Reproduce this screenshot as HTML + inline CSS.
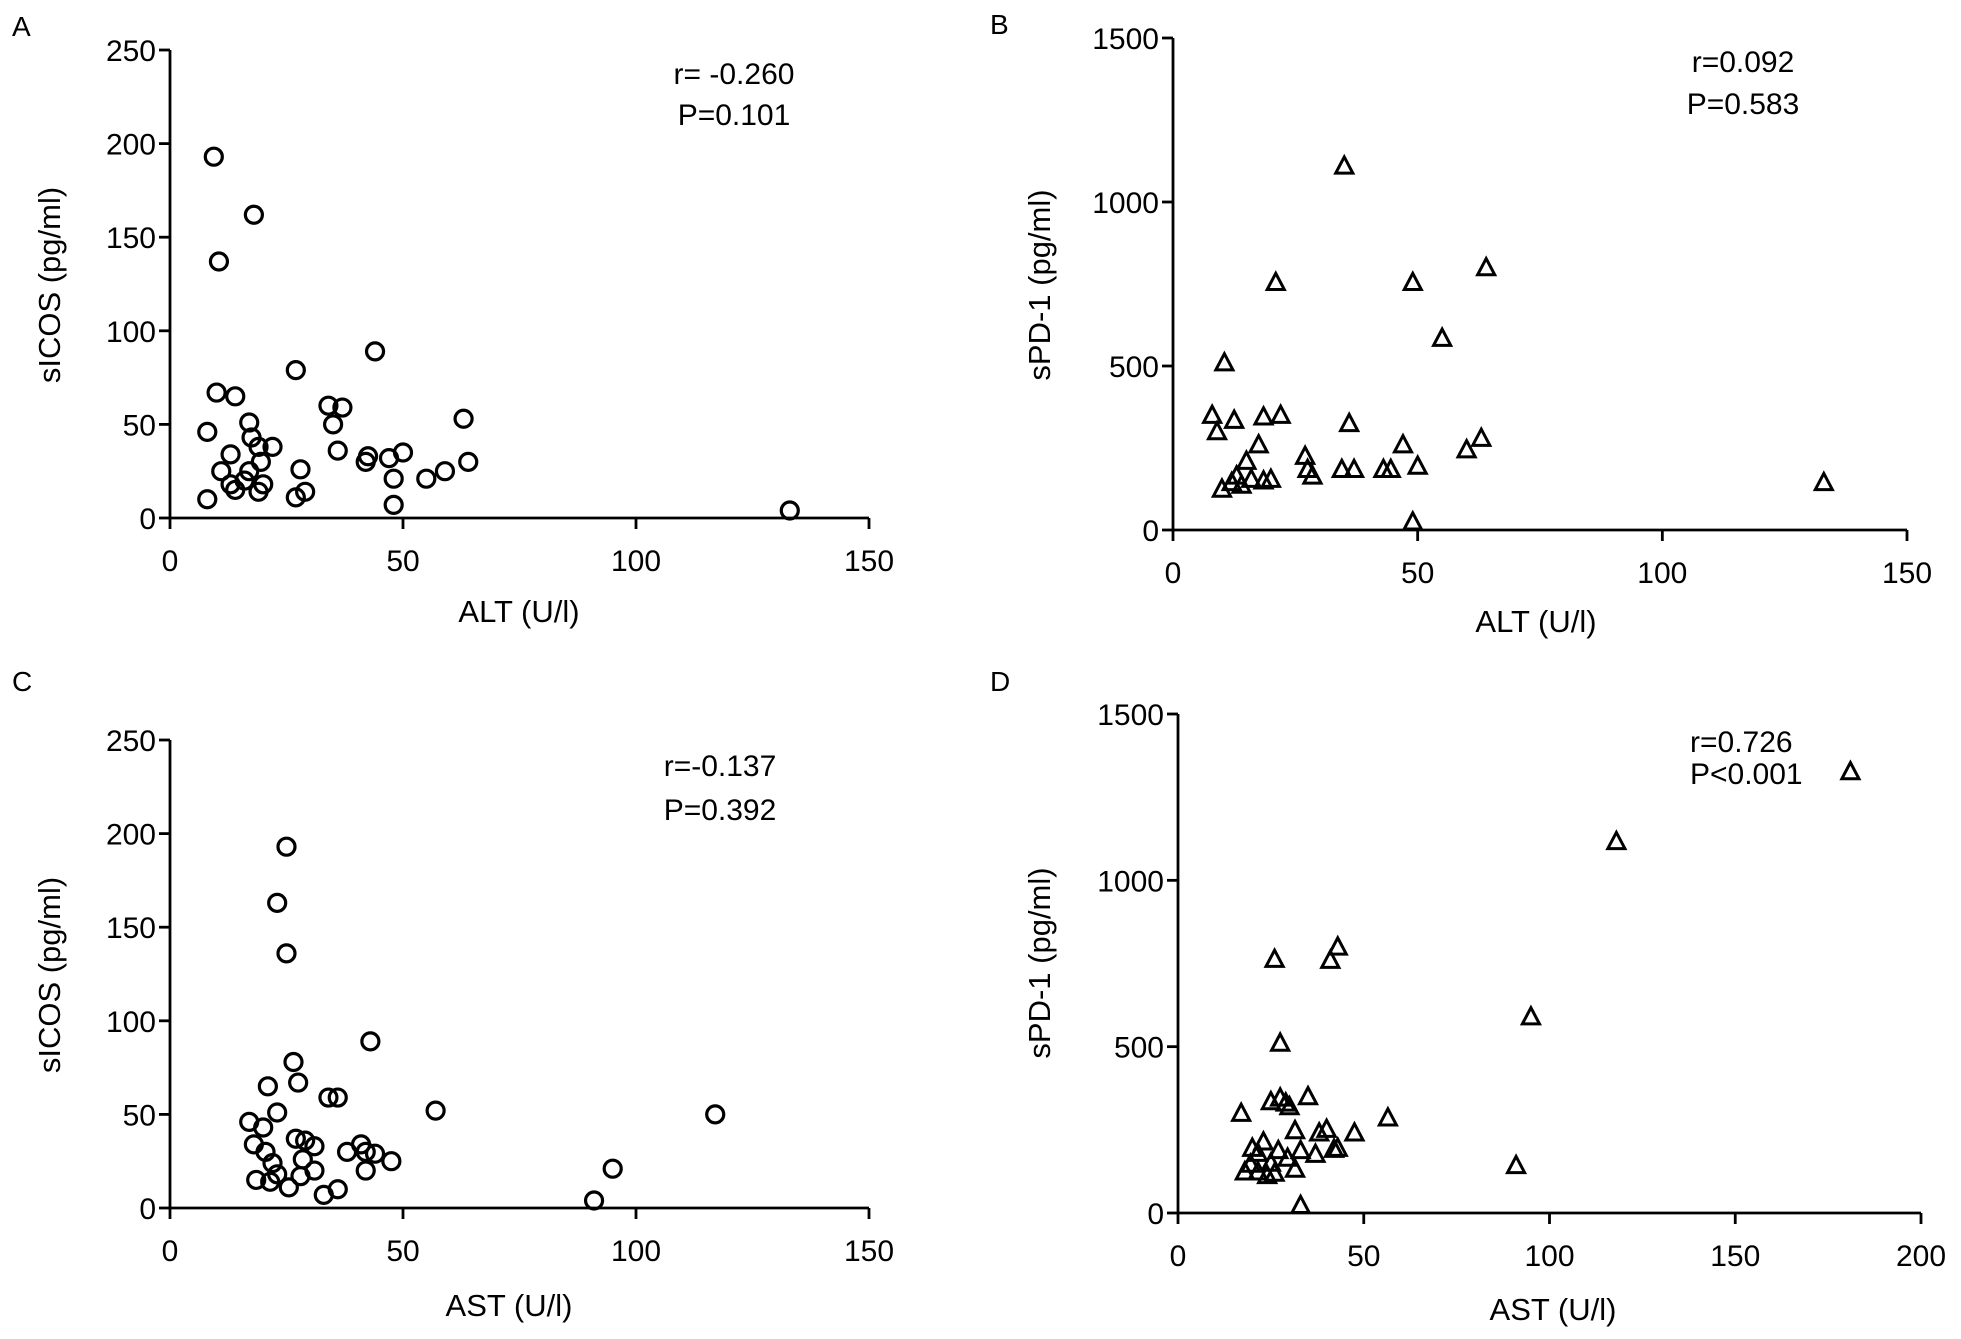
<!DOCTYPE html>
<html><head><meta charset="utf-8"><style>
html,body{margin:0;padding:0;background:#fff;}
svg{display:block;font-family:"Liberation Sans",Arial,sans-serif;}
</style></head><body>
<svg id="fig" width="1961" height="1339" viewBox="0 0 1961 1339" xmlns="http://www.w3.org/2000/svg"></svg>
<script>
// Panel A: ALT vs sICOS
const altA = [9.4,18,10.5,10,14,8,17,17.5,19,22,13,11,17,19.5,13,14,16,20,19,8,27,29,28,27,34,37,35,36,42,42.5,47,50,48,48,44,55,59,63,64,133];
const icosA = [193,162,137,67,65,46,51,43,38,38,34,25,25,30,18,15,20,18,14,10,11,14,26,79,60,59,50,36,30,33,32,35,21,7,89,21,25,53,30,4];
// Panel B: ALT vs sPD-1
const altB = [35,10.5,21,49,64,55,8,9,12.5,18.5,22,36,10,13,15,17.5,16,18.5,20,12,14,27,27.5,28.5,34.5,37,43,44.5,47,50,49,60,63,133];
const pdB = [1110,510,755,755,800,585,350,300,335,345,350,325,125,165,210,260,155,150,155,145,137,225,185,165,185,185,185,185,260,195,25,245,280,145];
// Panel C: AST vs sICOS
const astC = [25,23,25,26.5,27.5,21,43,34,36,57,117,17,23,20,18,20.5,22,18.5,21.5,23,25.5,27,29,31,28.5,31,28,33,36,38,41,42,44,42,47.5,91,95];
const icosC = [193,163,136,78,67,65,89,59,59,52,50,46,51,43,34,30,24,15,14,18,11,37,36,33,26,20,17,7,10,30,34,30,29,20,25,4,21];
// Panel D: AST vs sPD-1
const astD = [181,118,95,91,26,43,41,27.5,56.5,17,25,27.5,29,30,35,31.5,40,38,47.5,33,42,43,37,20,23,21.5,27,29.5,31.5,19.5,18,21.5,24,26,33,25];
const pdD = [1327,1117,590,143,763,800,760,511,286,300,335,346,331,320,350,248,252,241,241,188,192,195,177,195,214,180,188,165,132,147,124,124,113,120,23,150];
const ticksIcos = [0,50,100,150,200,250];
const ticksPd = [0,500,1000,1500];
const ticksX150 = [0,50,100,150];
const ticksX200 = [0,50,100,150,200];

const NS = "http://www.w3.org/2000/svg";
const svg = document.getElementById('fig');
function mk(tag, attrs, parent){
  const e = document.createElementNS(NS, tag);
  for (const k in attrs) e.setAttribute(k, attrs[k]);
  (parent||svg).appendChild(e);
  return e;
}
function txt(s, x, y, anchor, size, parent, rot){
  const t = mk('text', {x:x, y:y, 'text-anchor':anchor, 'font-size':size, fill:'#000'}, parent);
  if (rot) t.setAttribute('transform', 'rotate(-90 '+x+' '+y+')');
  t.textContent = s;
  return t;
}
function panel(cfg){
  const g = mk('g', {});
  
  
  const sx = v => cfg.x0 + v / cfg.xmax * (cfg.x1 - cfg.x0);
  const sy = v => cfg.y0 - v / cfg.ymax * (cfg.y0 - cfg.y1);
  const ya = mk('line', {x1:cfg.x0, y1:cfg.y0, x2:cfg.x0, y2:cfg.y1, stroke:'#000', 'stroke-width':2.8}, g);
  
  
  const xa = mk('line', {x1:cfg.x0, y1:cfg.y0, x2:cfg.x1, y2:cfg.y0, stroke:'#000', 'stroke-width':2.8}, g);
  
  
  cfg.yt.forEach(v => {
    const y = sy(v);
    mk('line', {x1:cfg.x0-11, y1:y, x2:cfg.x0, y2:y, stroke:'#000', 'stroke-width':2.8}, g);
    const t = txt(String(v), cfg.x0-14, y+11, 'end', 30, g);
    
    
  });
  cfg.xt.forEach(v => {
    const x = sx(v);
    mk('line', {x1:x, y1:cfg.y0, x2:x, y2:cfg.y0+11, stroke:'#000', 'stroke-width':2.8}, g);
    const t = txt(String(v), x, cfg.y0+53, 'middle', 30, g);
    
    
  });
  for (let i = 0; i < cfg.xs.length; i++){
    const x = sx(cfg.xs[i]), y = sy(cfg.ys[i]);
    let m;
    if (cfg.marker === 'circle'){
      m = mk('circle', {cx:x, cy:y, r:8.5, fill:'none', stroke:'#000', 'stroke-width':3.2}, g);
    } else {
      const h = 9;
      m = mk('polygon', {points:(x)+','+(y-h)+' '+(x-h*0.95)+','+(y+h*0.8)+' '+(x+h*0.95)+','+(y+h*0.8), fill:'none', stroke:'#000', 'stroke-width':3, 'stroke-linejoin':'miter'}, g);
    }
    
    
  }
  const xt = txt(cfg.xtitle, cfg.xtx, cfg.xty, 'middle', 31, g);
  
  
  const ytl = txt(cfg.ytitle, cfg.ytx, cfg.yty, 'middle', 31, g, true);
  
  
  const lt = txt(cfg.letter, cfg.lx, cfg.ly, 'start', 28, g);
  
  
  const r = txt(cfg.r, cfg.sx, cfg.sy1, cfg.sa, 30, g);
  
  
  const p = txt(cfg.p, cfg.sx, cfg.sy2, cfg.sa, 30, g);
  
  
}
panel({name:'panel-a', x0:170, x1:869, xmax:150, y0:518, y1:50, ymax:250, xt:ticksX150, yt:ticksIcos,
  xs:altA, ys:icosA, marker:'circle', xtitle:'ALT (U/l)', xtx:519, xty:622, ytitle:'sICOS (pg/ml)', ytx:60, yty:285,
  letter:'A', lx:12, ly:36, r:'r= -0.260', p:'P=0.101', sx:734, sy1:84, sy2:125, sa:'middle'});
panel({name:'panel-b', x0:1173, x1:1907, xmax:150, y0:530, y1:38, ymax:1500, xt:ticksX150, yt:ticksPd,
  xs:altB, ys:pdB, marker:'triangle', xtitle:'ALT (U/l)', xtx:1536, xty:632, ytitle:'sPD-1 (pg/ml)', ytx:1050, yty:285,
  letter:'B', lx:990, ly:34, r:'r=0.092', p:'P=0.583', sx:1743, sy1:72, sy2:114, sa:'middle'});
panel({name:'panel-c', x0:170, x1:869, xmax:150, y0:1208, y1:740, ymax:250, xt:ticksX150, yt:ticksIcos,
  xs:astC, ys:icosC, marker:'circle', xtitle:'AST (U/l)', xtx:509, xty:1316, ytitle:'sICOS (pg/ml)', ytx:60, yty:975,
  letter:'C', lx:12, ly:691, r:'r=-0.137', p:'P=0.392', sx:720, sy1:776, sy2:820, sa:'middle'});
panel({name:'panel-d', x0:1178, x1:1921, xmax:200, y0:1213, y1:714, ymax:1500, xt:ticksX200, yt:ticksPd,
  xs:astD, ys:pdD, marker:'triangle', xtitle:'AST (U/l)', xtx:1553, xty:1320, ytitle:'sPD-1 (pg/ml)', ytx:1050, yty:963,
  letter:'D', lx:990, ly:691, r:'r=0.726', p:'P<0.001', sx:1690, sy1:752, sy2:784, sa:'start'});
</script>
</body></html>
